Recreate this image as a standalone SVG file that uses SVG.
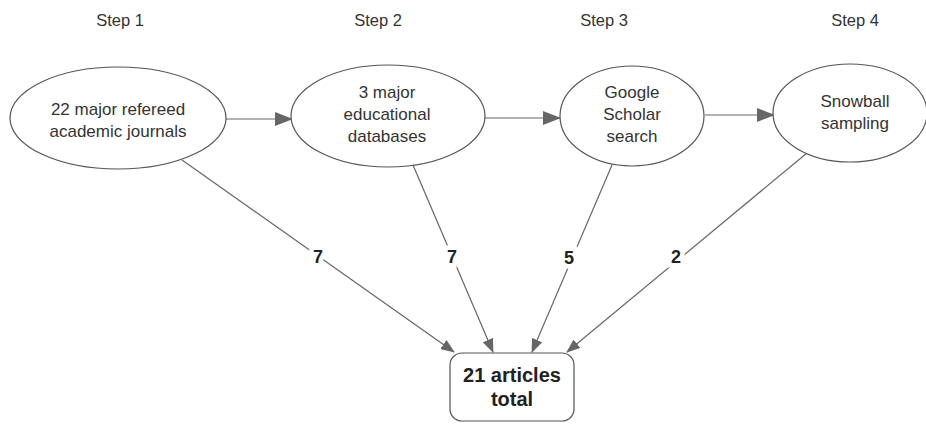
<svg xmlns="http://www.w3.org/2000/svg" width="926" height="424" viewBox="0 0 926 424">
<style>
.node{fill:#fff;stroke:#555;stroke-width:1.2}
.t{font-family:"Liberation Sans",Arial,sans-serif;font-size:17px;fill:#333;text-anchor:middle}
.step{font-family:"Liberation Sans",Arial,sans-serif;font-size:16.5px;fill:#333;text-anchor:middle}
.edge{stroke:#666;stroke-width:1.2;fill:none}
.lbl{font-family:"Liberation Sans",Arial,sans-serif;font-size:18px;font-weight:bold;fill:#222;text-anchor:middle;stroke:#fff;stroke-width:9;paint-order:stroke}
.b{font-family:"Liberation Sans",Arial,sans-serif;font-size:20px;font-weight:bold;fill:#222;text-anchor:middle}
</style>
<defs>
<marker id="ah" markerWidth="18" markerHeight="14" refX="17" refY="7" orient="auto" markerUnits="userSpaceOnUse">
<path d="M0,0 L18,7 L0,14 Z" fill="#666"/>
</marker>
<marker id="ah2" markerWidth="14" markerHeight="11" refX="13" refY="5.5" orient="auto" markerUnits="userSpaceOnUse">
<path d="M0,0 L14,5.5 L0,11 Z" fill="#666"/>
</marker>
</defs>
<rect width="926" height="424" fill="#fff"/>
<g id="steps">
<text class="step" x="120" y="26">Step 1</text>
<text class="step" x="378" y="26">Step 2</text>
<text class="step" x="604" y="26">Step 3</text>
<text class="step" x="855" y="26">Step 4</text>
</g>
<g id="connectors">
<line class="edge" x1="226" y1="119" x2="292" y2="119" marker-end="url(#ah)"/>
<line class="edge" x1="485" y1="118" x2="560" y2="118" marker-end="url(#ah)"/>
<line class="edge" x1="705" y1="115" x2="774" y2="115" marker-end="url(#ah)"/>
<line class="edge" x1="182" y1="160" x2="454" y2="352" marker-end="url(#ah2)"/>
<line class="edge" x1="413" y1="165" x2="493" y2="352" marker-end="url(#ah2)"/>
<line class="edge" x1="612" y1="165" x2="532" y2="352" marker-end="url(#ah2)"/>
<line class="edge" x1="807" y1="153" x2="567" y2="352" marker-end="url(#ah2)"/>
<text class="lbl" x="318" y="263">7</text>
<text class="lbl" x="452" y="263">7</text>
<text class="lbl" x="569" y="264">5</text>
<text class="lbl" x="676" y="263">2</text>
</g>
<g id="n1">
<ellipse class="node" cx="118" cy="118" rx="108" ry="51"/>
<text class="t" x="118" y="115">22 major refereed</text>
<text class="t" x="118" y="137">academic journals</text>
</g>
<g id="n2">
<ellipse class="node" cx="388" cy="116" rx="97" ry="51"/>
<text class="t" x="387" y="98">3 major</text>
<text class="t" x="387" y="120">educational</text>
<text class="t" x="387" y="142">databases</text>
</g>
<g id="n3">
<ellipse class="node" cx="632" cy="116" rx="72" ry="50"/>
<text class="t" x="632" y="98">Google</text>
<text class="t" x="632" y="120">Scholar</text>
<text class="t" x="632" y="142">search</text>
</g>
<g id="n4">
<ellipse class="node" cx="850" cy="113" rx="77" ry="49"/>
<text class="t" x="855" y="107">Snowball</text>
<text class="t" x="855" y="129">sampling</text>
</g>
<g id="total">
<rect class="node" x="450" y="353" width="124" height="68" rx="12"/>
<text class="b" x="512" y="382">21 articles</text>
<text class="b" x="512" y="406">total</text>
</g>
</svg>
